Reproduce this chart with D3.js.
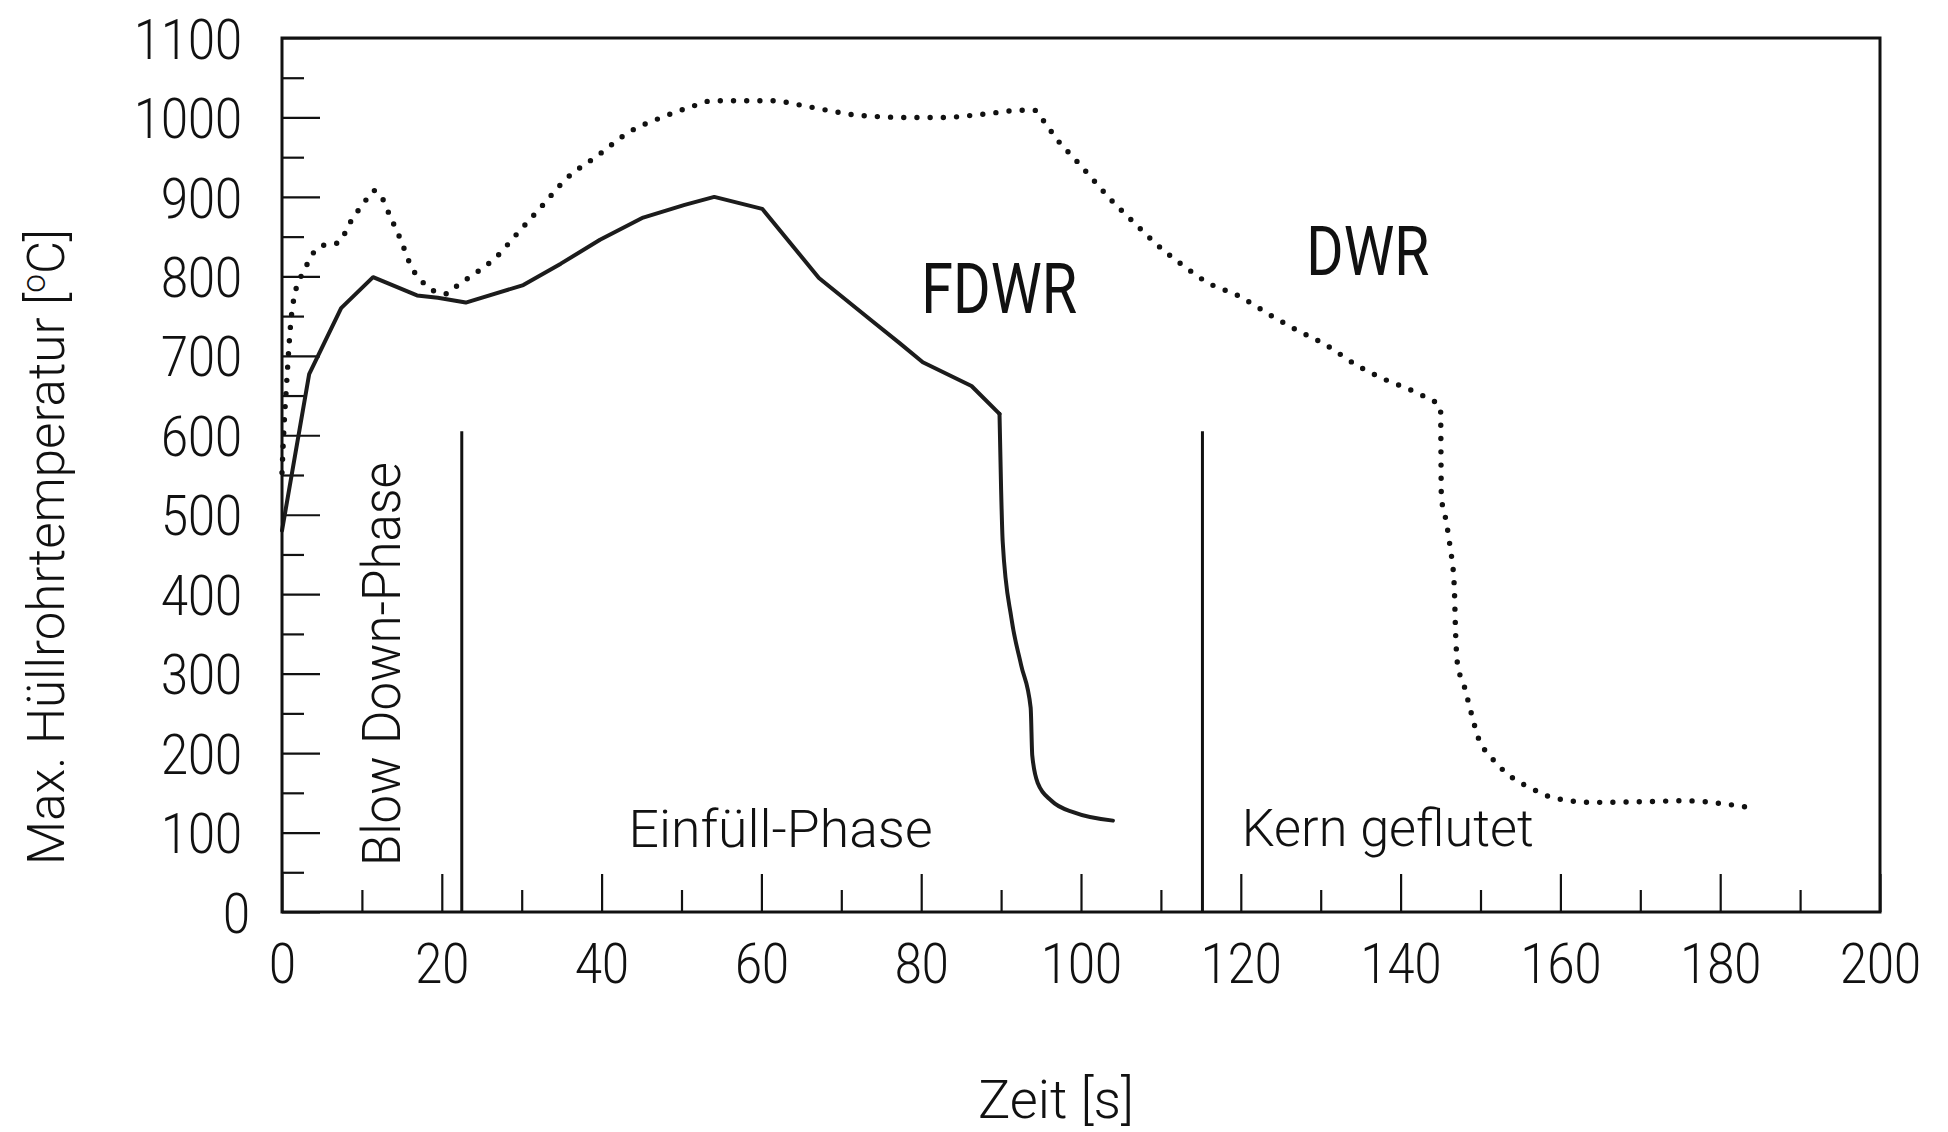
<!DOCTYPE html>
<html>
<head>
<meta charset="utf-8">
<script src="https://cdn.jsdelivr.net/npm/d3@7"></script>
<style>
  html, body { margin: 0; background: #fff; }
  svg { display: block; }
  text { font-family: Roboto, "DejaVu Sans", sans-serif; fill: #111; }
</style>
</head>
<body>
<svg id="chart" width="1948" height="1132"></svg>
<script>
// FDWR: maximum cladding temperature (solid line)
const fdwrTime = [0, 3.4, 7.4, 11.4, 16.9, 19.5, 23.0, 30.2, 34.9, 39.8, 45.2, 50.4, 54.1, 60.1,
  67.2, 73.7, 77.3, 80.2, 86.3, 89.8, 90.0, 90.2, 91.3, 92.5, 93.7, 93.9, 94.6, 96.3, 99.2, 104.0];
const fdwrTemp = [480, 677, 760, 799, 776, 773, 767, 789, 816, 846, 874, 890, 900, 885,
  798, 745, 716, 692, 662, 627, 532, 466, 369, 311, 257, 197, 162, 140, 125, 115];

// DWR: maximum cladding temperature (dotted line)
const dwrTime = [0, 0.27, 0.56, 0.86, 1.1, 1.5, 1.9, 2.6, 4.2, 5.5, 7.0, 8.6, 10.5, 11.5, 12.2,
  13.6, 14.9, 16.1, 18.0, 19.4, 20.7, 21.9, 24.5, 27.0, 29.1, 32.4, 35.6, 39.5, 43.5, 47.5,
  51.1, 53.9, 61.9, 63.6, 68.3, 71.9, 78.4, 82.7, 87.7, 92.4, 94.2, 95.3, 97.1, 99.2, 101.4,
  103.6, 106.4, 110.3, 113.0, 115.7, 119.8, 123.9, 126.9, 130.6, 134.7, 138.1, 142.1, 145.0,
  145.1, 145.7, 146.2, 146.7, 146.9, 147.1, 148.0, 148.8, 149.7, 151.4, 153.6, 156.3, 159.4,
  164.2, 170.8, 175.7, 180.5, 184.5];
const dwrTemp = [553, 614, 662, 710, 742, 773, 789, 804, 833, 840, 842, 869, 896, 908, 904,
  874, 845, 814, 789, 780, 778, 788, 806, 826, 850, 887, 923, 952, 982, 1000,
  1013, 1021, 1021, 1018, 1009, 1003, 1000, 1000, 1004, 1009, 1009, 996, 971, 948, 923,
  898, 870, 833, 812, 793, 775, 750, 733, 714, 687, 670, 653, 635,
  523, 492, 459, 413, 347, 314, 283, 252, 220, 194, 172, 156, 143,
  138, 139, 140, 136, 130];

// Axis ticks
const xTicks = [0, 20, 40, 60, 80, 100, 120, 140, 160, 180, 200];
const xMinorTicks = [10, 30, 50, 70, 90, 110, 130, 150, 170, 190];
const yTicks = [0, 100, 200, 300, 400, 500, 600, 700, 800, 900, 1000, 1100];
const yMinorTicks = [50, 150, 250, 350, 450, 550, 650, 750, 850, 950, 1050];

// Phase boundaries (s) and the height of their marker lines (°C)
const phaseBoundaries = [22.5, 115.2];
const phaseLineTop = 605;
const phaseNames = ["Blow Down-Phase", "Einfüll-Phase", "Kern geflutet"];
const seriesNames = ["FDWR", "DWR"];
const xTitle = "Zeit [s]";
const yTitle = "Max. Hüllrohrtemperatur [";

const svg = d3.select("#chart");
const x = d3.scaleLinear().domain([0, 200]).range([282, 1880]);
const y = d3.scaleLinear().domain([0, 1100]).range([912, 38]);

const INK = "#111";

// ---- y axis (ticks pointing into the plot) ----
const gy = svg.append("g")
  .attr("transform", `translate(${x(0)},0)`)
  .call(d3.axisLeft(y).tickValues(yTicks).tickSize(-38).tickPadding(0).tickFormat(d3.format("d")));
gy.select(".domain").remove();
gy.selectAll(".tick line").attr("stroke", INK).attr("stroke-width", 2.2);
gy.selectAll(".tick text")
  .attr("x", d => d === 0 ? -32 : -40).attr("dy", "0.36em")
  .attr("font-size", 56).attr("font-weight", 300).attr("font-family", "Roboto")
  .attr("textLength", d => String(d).length * 27)
  .attr("lengthAdjust", "spacingAndGlyphs");

const gyMinor = svg.append("g")
  .attr("transform", `translate(${x(0)},0)`)
  .call(d3.axisLeft(y).tickValues(yMinorTicks).tickSize(-22).tickFormat(""));
gyMinor.select(".domain").remove();
gyMinor.selectAll(".tick line").attr("stroke", INK).attr("stroke-width", 2.2);

// ---- x axis (ticks pointing into the plot) ----
const gx = svg.append("g")
  .attr("transform", `translate(0,${y(0)})`)
  .call(d3.axisBottom(x).tickValues(xTicks).tickSize(-38).tickPadding(0).tickFormat(d3.format("d")));
gx.select(".domain").remove();
gx.selectAll(".tick line").attr("stroke", INK).attr("stroke-width", 2.2);
gx.selectAll(".tick text")
  .attr("y", 71).attr("dy", 0)
  .attr("font-size", 56).attr("font-weight", 300).attr("font-family", "Roboto")
  .attr("textLength", d => String(d).length * 27)
  .attr("lengthAdjust", "spacingAndGlyphs");

const gxMinor = svg.append("g")
  .attr("transform", `translate(0,${y(0)})`)
  .call(d3.axisBottom(x).tickValues(xMinorTicks).tickSize(-22).tickFormat(""));
gxMinor.select(".domain").remove();
gxMinor.selectAll(".tick line").attr("stroke", INK).attr("stroke-width", 2.2);

// ---- phase boundary lines ----
svg.append("g").selectAll("line")
  .data(phaseBoundaries)
  .join("line")
  .attr("x1", d => x(d)).attr("x2", d => x(d))
  .attr("y1", y(0)).attr("y2", y(phaseLineTop))
  .attr("stroke", INK).attr("stroke-width", 3);

// ---- curves ----
const fdwr = fdwrTime.map((t, i) => ({ t, v: fdwrTemp[i] }));
const dwr = dwrTime.map((t, i) => ({ t, v: dwrTemp[i] }));

// heating part is a polyline, the quench part is smooth
const quenchStart = fdwrTime.indexOf(89.8);
const fdwrStyle = p => p
  .attr("fill", "none")
  .attr("stroke", "#1c1c1c")
  .attr("stroke-width", 4)
  .attr("stroke-linejoin", "round")
  .attr("stroke-linecap", "round");

svg.append("path")
  .datum(fdwr.slice(0, quenchStart + 1))
  .attr("d", d3.line().x(d => x(d.t)).y(d => y(d.v)))
  .call(fdwrStyle);

svg.append("path")
  .datum(fdwr.slice(quenchStart))
  .attr("d", d3.line().curve(d3.curveMonotoneX).x(d => x(d.t)).y(d => y(d.v)))
  .call(fdwrStyle);

svg.append("path")
  .datum(dwr)
  .attr("d", d3.line().curve(d3.curveMonotoneX).x(d => x(d.t)).y(d => y(d.v)))
  .attr("fill", "none")
  .attr("stroke", INK)
  .attr("stroke-width", 5.4)
  .attr("stroke-linecap", "round")
  .attr("stroke-dasharray", "0 13.2");

// ---- frame ----
svg.append("rect")
  .attr("x", x(0)).attr("y", y(1100))
  .attr("width", x(200) - x(0)).attr("height", y(0) - y(1100))
  .attr("fill", "none").attr("stroke", INK).attr("stroke-width", 3);

// ---- phase labels ----
svg.append("text")
  .attr("transform", `translate(${x(14.8)},${y(312)}) rotate(-90)`)
  .attr("text-anchor", "middle")
  .attr("font-size", 53).attr("font-weight", 300)
  .attr("textLength", 404).attr("lengthAdjust", "spacingAndGlyphs")
  .text(phaseNames[0]);

svg.append("text")
  .attr("x", x(62.4)).attr("y", y(82))
  .attr("text-anchor", "middle")
  .attr("font-size", 51).attr("font-weight", 300)
  .attr("textLength", 304).attr("lengthAdjust", "spacingAndGlyphs")
  .text(phaseNames[1]);

svg.append("text")
  .attr("x", x(138.4)).attr("y", y(83))
  .attr("text-anchor", "middle")
  .attr("font-size", 51).attr("font-weight", 300)
  .attr("textLength", 292).attr("lengthAdjust", "spacingAndGlyphs")
  .text(phaseNames[2]);

// ---- series labels ----
svg.append("text")
  .attr("x", x(80.0)).attr("y", y(754))
  .attr("font-size", 70).attr("font-weight", 400)
  .attr("textLength", 156).attr("lengthAdjust", "spacingAndGlyphs")
  .text(seriesNames[0]);

svg.append("text")
  .attr("x", x(128.2)).attr("y", y(802))
  .attr("font-size", 68).attr("font-weight", 400)
  .attr("textLength", 123).attr("lengthAdjust", "spacingAndGlyphs")
  .text(seriesNames[1]);

// ---- axis titles ----
svg.append("text")
  .attr("x", 1056).attr("y", 1118)
  .attr("text-anchor", "middle")
  .attr("font-size", 54).attr("font-weight", 300)
  .attr("textLength", 156).attr("lengthAdjust", "spacingAndGlyphs")
  .text(xTitle);

const yt = svg.append("text")
  .attr("transform", "translate(64,547) rotate(-90)")
  .attr("text-anchor", "middle")
  .attr("font-size", 52).attr("font-weight", 300)
  .attr("textLength", 636).attr("lengthAdjust", "spacingAndGlyphs");
yt.append("tspan").text(yTitle);
yt.append("tspan").attr("font-size", 34).attr("dy", -19).text("o");
yt.append("tspan").attr("dy", 19).text("C]");
</script>
</body>
</html>
